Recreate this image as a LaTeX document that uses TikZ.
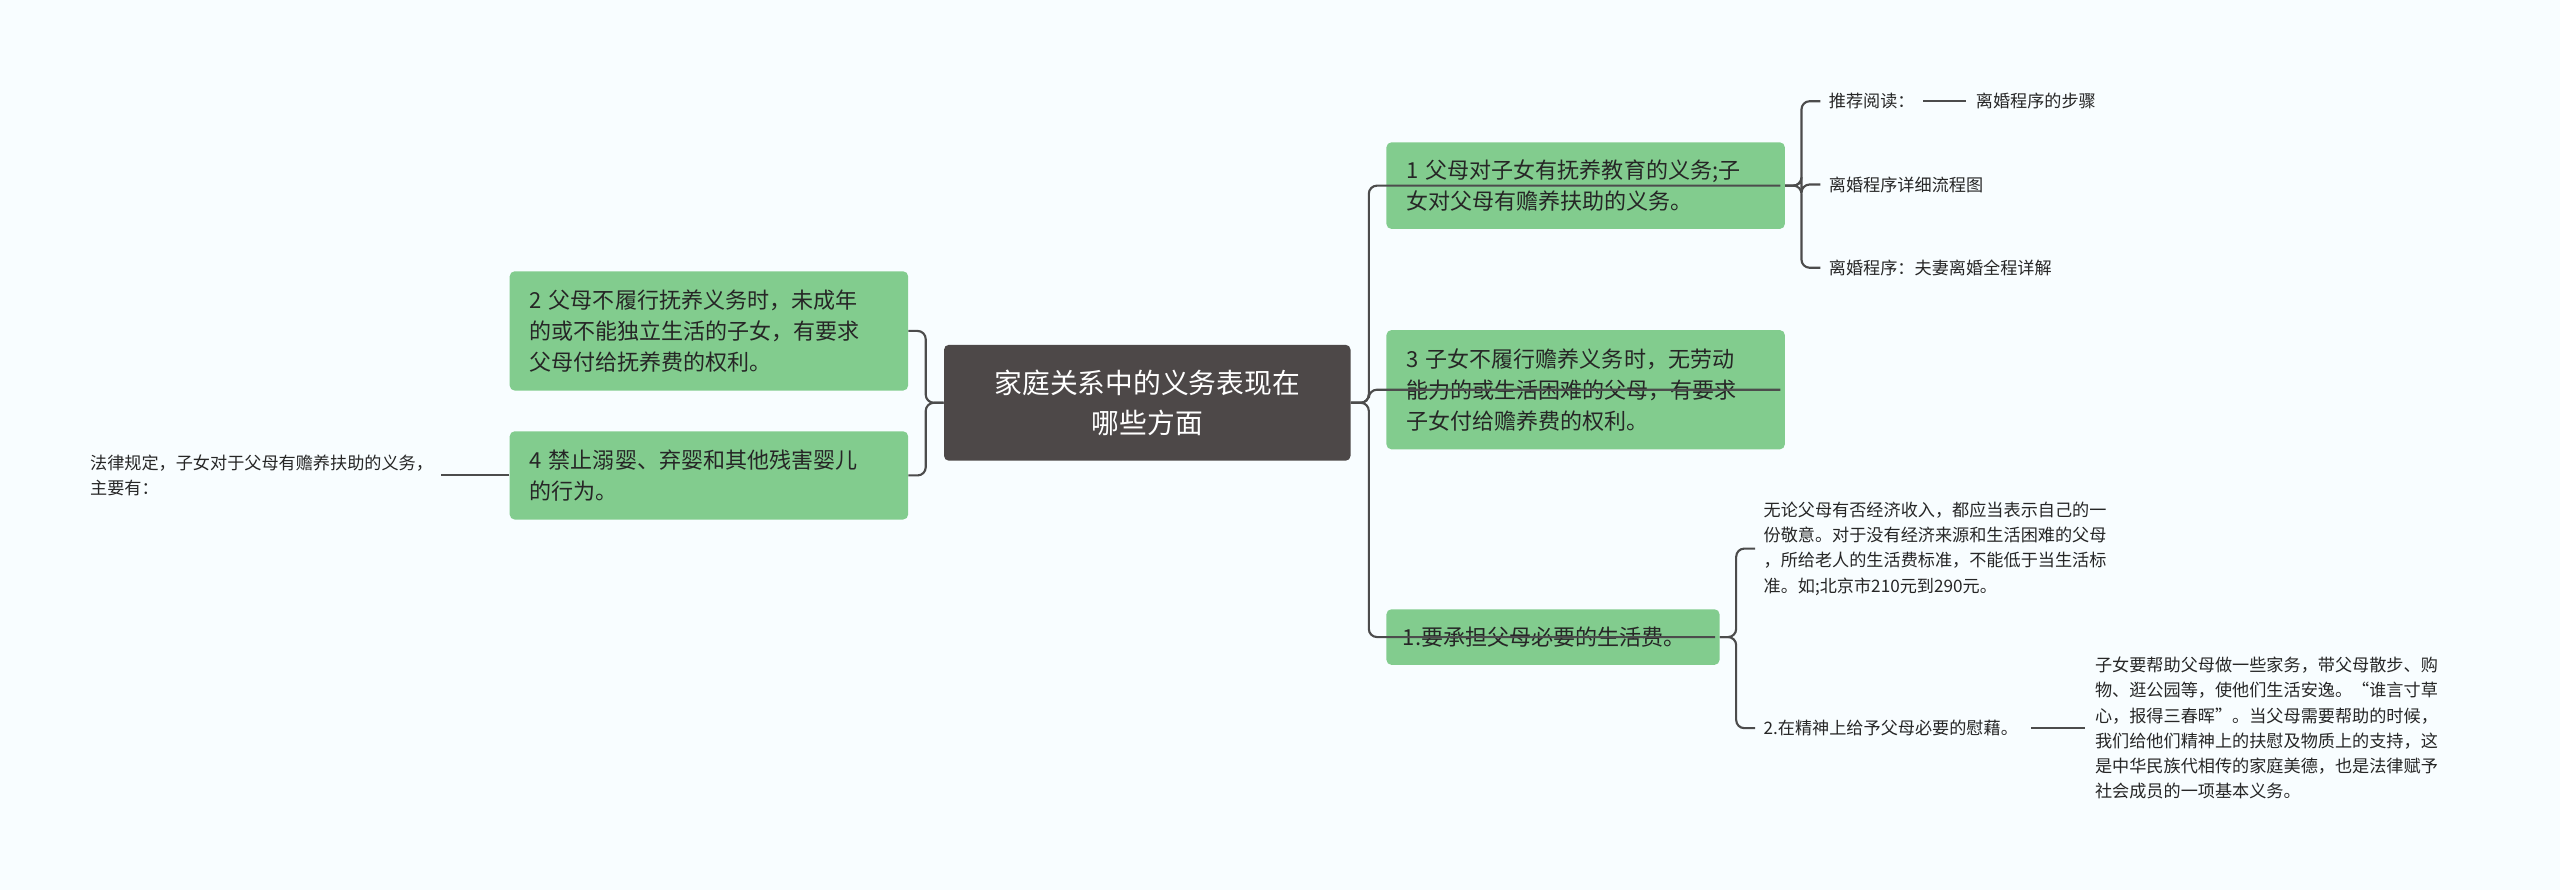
\documentclass[tikz,border=0pt]{standalone}
\usepackage{fontspec}
\setmainfont{Noto Sans CJK SC}
\begin{document}
\begin{tikzpicture}[x=1pt,y=-1pt,
  box/.style={fill=gbox,rounded corners=3pt,anchor=north west,inner sep=0pt,font=\fontsize{13.5}{19}\selectfont,align=left,text=black!85},
  small/.style={anchor=west,inner sep=0pt,font=\fontsize{10.5}{15.5}\selectfont,align=left,text=black!85},
  conn/.style={draw=black!70,line width=1.3pt,rounded corners=5pt}]
\definecolor{gbox}{HTML}{82CC8E}
\definecolor{bg}{HTML}{F8FDFF}
\definecolor{cbox}{HTML}{4D4848}
\fill[bg] (0,0) rectangle (1568,545);
\useasboundingbox (0,0) rectangle (1568,545);
\node[box,fill=cbox,text=white,minimum width=249,minimum height=71,align=center,font=\fontsize{17}{24}\selectfont] (c) at (578,211) {家庭关系中的义务表现在\\哪些方面};
\node[box,minimum width=244,minimum height=73,text width=232] (l1) at (312,166) {\hspace*{6pt}2 父母不履行抚养义务时，未成年\\\hspace*{6pt}的或不能独立生活的子女，有要求\\\hspace*{6pt}父母付给抚养费的权利。};
\node[box,minimum width=244,minimum height=54,text width=232] (l2) at (312,264) {\hspace*{6pt}4 禁止溺婴、弃婴和其他残害婴儿\\\hspace*{6pt}的行为。};
\node[small] (ll) at (55,291) {法律规定，子女对于父母有赡养扶助的义务，\\主要有：};
\node[box,minimum width=244,minimum height=53,text width=232] (r1) at (849,87) {\hspace*{6pt}1 父母对子女有抚养教育的义务;子\\\hspace*{6pt}女对父母有赡养扶助的义务。};
\node[box,minimum width=244,minimum height=73,text width=232] (r2) at (849,202) {\hspace*{6pt}3 子女不履行赡养义务时，无劳动\\\hspace*{6pt}能力的或生活困难的父母，有要求\\\hspace*{6pt}子女付给赡养费的权利。};
\node[box,minimum width=204,minimum height=34,text width=196] (r3) at (849,373) {\hspace*{6pt}1.要承担父母必要的生活费。};
\node[small] (a1) at (1120,62) {推荐阅读：};
\node[small] (a1b) at (1210,62) {离婚程序的步骤};
\node[small] (a2) at (1120,113) {离婚程序详细流程图};
\node[small] (a3) at (1120,164) {离婚程序：夫妻离婚全程详解};
\node[small] (b1) at (1080,336) {无论父母有否经济收入，都应当表示自己的一\\份敬意。对于没有经济来源和生活困难的父母\\，所给老人的生活费标准，不能低于当生活标\\准。如;北京市210元到290元。};
\node[small] (b2) at (1080,446) {2.在精神上给予父母必要的慰藉。};
\node[small] (b3) at (1283,446) {子女要帮助父母做一些家务，带父母散步、购\\物、逛公园等，使他们生活安逸。“谁言寸草\\心，报得三春晖”。当父母需要帮助的时候，\\我们给他们精神上的扶慰及物质上的支持，这\\是中华民族代相传的家庭美德，也是法律赋予\\社会成员的一项基本义务。};
\foreach \t in {l1,l2} \draw[conn] (c.west) -- ++(-11,0) |- (\t.east);
\foreach \t in {r1,r2,r3} \draw[conn] (c.east) -- ++(11,0) |- (\t.east|-\t.west) -- (\t.west);
\draw[conn] (l2.west) -- ([xshift=5pt]ll.east|-l2.west);
\foreach \t in {a1,a2,a3} \draw[conn] (r1.east) -- ++(10,0) |- ([xshift=-5pt]\t.west);
\draw[conn] ([xshift=5pt]a1.east) -- ([xshift=-6pt]a1b.west);
\foreach \t in {b1,b2} \draw[conn] (r3.east) -- ++(10,0) |- ([xshift=-5pt]\t.west);
\draw[conn] ([xshift=8pt]b2.east) -- ([xshift=-6pt]b3.west);
\end{tikzpicture}
\end{document}
